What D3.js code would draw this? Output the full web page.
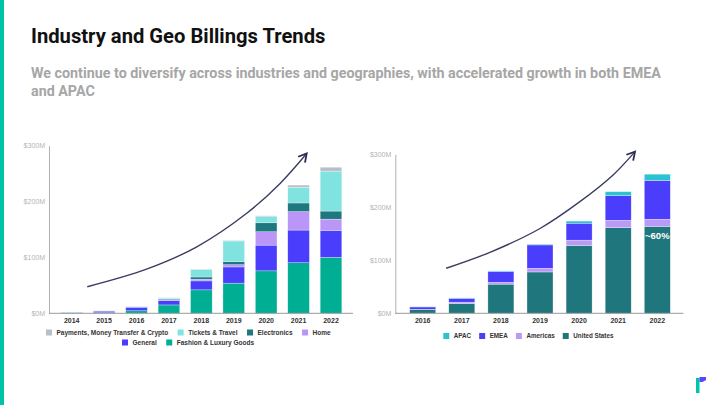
<!DOCTYPE html>
<html><head><meta charset="utf-8">
<script src="https://cdn.jsdelivr.net/npm/d3@7"></script>
<style>
html,body{margin:0;padding:0;background:#fff;}
svg{display:block;font-family:"Liberation Sans",Arial,sans-serif;}
</style></head>
<body>
<svg id="c" width="720" height="405"></svg>
<script>
// ---------- DATA ----------
const industryYears = ["2014","2015","2016","2017","2018","2019","2020","2021","2022"];
const industryKeys = ["Fashion & Luxury Goods","General","Home","Electronics","Tickets & Travel","Payments, Money Transfer & Crypto"];
const fashion     = [1, 1, 4.5, 15, 42, 54, 76, 90.5, 100];
const general     = [0.3, 3, 6.5, 8, 16, 29, 46, 58.5, 48.5];
const home        = [0, 0.2, 0.3, 1.5, 3, 4, 24, 33, 20];
const electronics = [0, 0.2, 0.3, 1.5, 4, 5.5, 16, 15.5, 14.5];
const tickets     = [0, 0.3, 0.8, 1.5, 13.5, 37, 11, 28, 71.5];
const payments    = [0, 0, 0, 0.5, 0.5, 1, 1.5, 4, 7];

const geoYears = ["2016","2017","2018","2019","2020","2021","2022"];
const geoKeys = ["United States","Americas","EMEA","APAC"];
const unitedStates = [7, 18, 55, 78, 128, 161.5, 164];
const americas     = [0.5, 3, 3.5, 7, 10, 14, 13.5];
const emea         = [4.5, 7, 20.5, 44, 32, 46.5, 73];
const apac         = [0.5, 1, 1, 1.5, 4, 7.5, 12];

const yTicks = [0, 100, 200, 300];
const tickLabels = ["$0M","$100M","$200M","$300M"];

const industryLegendRows = [
  ["Payments, Money Transfer & Crypto","Tickets & Travel","Electronics","Home"],
  ["General","Fashion & Luxury Goods"]
];
const geoLegend = ["APAC","EMEA","Americas","United States"];

// Trend arrows in data space: [band index, value $M]
const industryArrow = [[0.48,47.6],[2.31,79],[3.86,119],[5.40,179],[6.43,232.5],[7.25,286]];
const geoArrow = [[0.6,85],[1.72,115],[3.0,160],[4.02,210.6],[4.87,261],[5.43,305]];

const shareLabel = "~60%";

// ---------- STYLE ----------
const colors = {
  "Fashion & Luxury Goods":"#00ae94",
  "General":"#4a3dfc",
  "Home":"#b996f7",
  "Electronics":"#1f7880",
  "Tickets & Travel":"#80e3df",
  "Payments, Money Transfer & Crypto":"#b8bfca",
  "United States":"#20767d",
  "Americas":"#b99af7",
  "EMEA":"#4a3dfc",
  "APAC":"#2bc3d1"
};

const svg = d3.select("#c");

// side accent bar
svg.append("rect").attr("x",0).attr("y",0).attr("width",4).attr("height",405).attr("fill","#00c4a7");

// title and subtitle
svg.append("text").attr("x",31).attr("y",43).attr("font-family","Roboto, Arial, sans-serif")
  .attr("font-weight",700).attr("font-size",20.2).attr("fill","#111")
  .text("Industry and Geo Billings Trends");
const sub = svg.append("text").attr("font-family","Roboto, Arial, sans-serif")
  .attr("font-weight",700).attr("font-size",14.3).attr("fill","#a6a6a6");
sub.append("tspan").attr("x",31).attr("y",78).text("We continue to diversify across industries and geographies, with accelerated growth in both EMEA");
sub.append("tspan").attr("x",31).attr("y",96).text("and APAC");

// logo
svg.append("rect").attr("x",696).attr("y",378).attr("width",3.5).attr("height",15).attr("fill","#00c4a7");
svg.append("path").attr("d","M699.5,377 L706,377 L706,380 L702.5,382 L699.5,382 Z").attr("fill","#5a45ff");

// marker
const defs = svg.append("defs");
defs.append("marker").attr("id","arr").attr("markerUnits","userSpaceOnUse")
  .attr("viewBox","-10 -6 12 12").attr("refX",0).attr("refY",0)
  .attr("markerWidth",12).attr("markerHeight",12).attr("orient","auto")
  .append("path").attr("d","M-8,-4.5 L0,0 L-8,4.5").attr("fill","none")
  .attr("stroke","#2b2d55").attr("stroke-width",1.8).attr("stroke-linejoin","miter");

function drawChart(cfg){
  const g = svg.append("g");
  const x = d3.scaleBand().domain(cfg.years).range(cfg.xRange).paddingInner(cfg.pad).paddingOuter(cfg.pad/2);
  const y = d3.scaleLinear().domain([0,300]).range(cfg.yRange);
  const table = cfg.years.map((yr,i)=>{
    const o = {year:yr};
    cfg.keys.forEach((k,j)=>o[k]=cfg.series[j][i]);
    return o;
  });
  const stack = d3.stack().keys(cfg.keys)(table);

  g.selectAll("g.layer").data(stack).join("g").attr("class","layer")
    .attr("fill",d=>colors[d.key])
    .selectAll("rect").data(d=>d).join("rect")
    .attr("x",d=>x(d.data.year)).attr("width",x.bandwidth())
    .attr("y",d=>y(d[1])).attr("height",d=>Math.max(0,y(d[0])-y(d[1])))
    .attr("stroke","#ffffff").attr("stroke-width",0.5).attr("stroke-opacity",0.6);

  // axes
  const yAxis = d3.axisLeft(y).tickValues(yTicks).tickSize(0).tickPadding(4)
    .tickFormat((d,i)=>tickLabels[i]);
  const ya = g.append("g").attr("transform",`translate(${cfg.axisX},0)`).call(yAxis);
  ya.select(".domain").attr("stroke","#9a9a9a").attr("stroke-width",0.8);
  ya.selectAll("text").attr("font-size",7).attr("fill","#b4b4b4").attr("font-family","Liberation Sans, Arial, sans-serif");

  g.append("line").attr("x1",cfg.axisX).attr("x2",cfg.axisEnd)
    .attr("y1",y(0)).attr("y2",y(0)).attr("stroke","#9a9a9a").attr("stroke-width",1);

  const xAxis = d3.axisBottom(x).tickSize(0).tickPadding(5);
  const xa = g.append("g").attr("transform",`translate(0,${y(0)})`).call(xAxis);
  xa.select(".domain").remove();
  xa.selectAll("text").attr("font-size",7).attr("font-weight",700).attr("fill","#333").attr("font-family","Liberation Sans, Arial, sans-serif");

  // arrow
  const xi = i => cfg.xRange[0] + x.step()*(i+0.5);
  const line = d3.line().x(d=>xi(d[0])).y(d=>y(d[1])).curve(d3.curveCatmullRom.alpha(0.5));
  g.append("path").attr("d",line(cfg.arrow)).attr("fill","none")
    .attr("stroke","#3a3c62").attr("stroke-width",1.4).attr("marker-end","url(#arr)");

  return {g,x,y};
}

const left = drawChart({
  years:industryYears, keys:industryKeys,
  series:[fashion,general,home,electronics,tickets,payments],
  xRange:[55.5,347.2], pad:0.333, yRange:[313.3,145.7],
  axisX:49, axisEnd:353, arrow:industryArrow
});
const right = drawChart({
  years:geoYears, keys:geoKeys,
  series:[unitedStates,americas,emea,apac],
  xRange:[403.15,676.85], pad:0.335, yRange:[313.3,154.3],
  axisX:395.3, axisEnd:683.3, arrow:geoArrow
});

// ~60% label
right.g.append("text").attr("x",right.x("2022")+right.x.bandwidth()/2)
  .attr("y",right.y(unitedStates[6])+13).attr("text-anchor","middle")
  .attr("font-size",9.5).attr("font-weight",700).attr("fill","#fff").text(shareLabel);

// legends
function legendRow(items, startX, yC, gap, fs){
  const g = svg.append("g");
  let cx = startX;
  items.forEach(name=>{
    g.append("rect").attr("x",cx).attr("y",yC-3).attr("width",6).attr("height",6).attr("fill",colors[name]);
    const t = g.append("text").attr("x",cx+10.5).attr("y",yC+2.4).attr("font-size",fs)
      .attr("font-weight",700).attr("fill","#333").text(name);
    cx = cx + 10.5 + t.node().getComputedTextLength() + gap;
  });
  return g;
}
legendRow(industryLegendRows[0], 46, 332.5, 9.5, 6.5);
legendRow(industryLegendRows[1], 122, 342.5, 9.5, 6.5);
legendRow(geoLegend, 443.3, 336, 8, 6.3);
</script>
</body></html>
